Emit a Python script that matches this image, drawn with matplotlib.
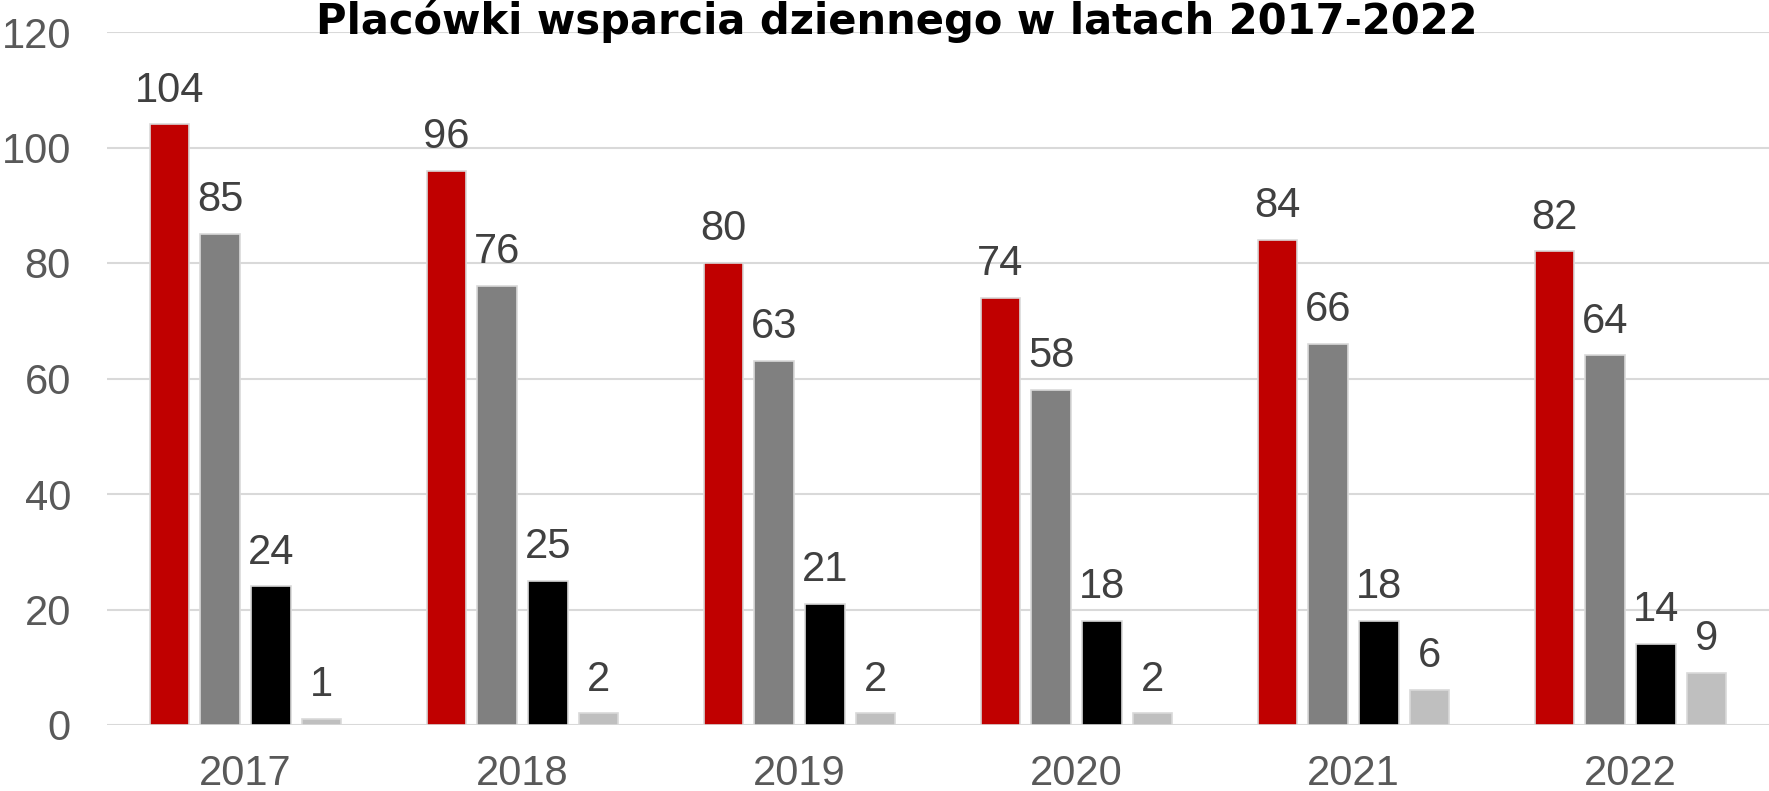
import numpy as np
import matplotlib.pyplot as plt
from matplotlib import font_manager

# data
years = ['2017', '2018', '2019', '2020', '2021', '2022']
series_a = [104, 96, 80, 74, 84, 82]
series_b = [85, 76, 63, 58, 66, 64]
series_c = [24, 25, 21, 18, 18, 14]
series_d = [1, 2, 2, 2, 6, 9]

colors = ['#C00000', '#808080', '#000000', '#BFBFBF']
title = 'Placówki wsparcia dziennego w latach 2017-2022'

installed = set(f.name for f in font_manager.fontManager.ttflist)
if 'Liberation Sans Narrow' in installed:
    numFont, numSize = 'Liberation Sans Narrow', 32
else:
    numFont, numSize = 'Liberation Sans', 30
plt.rcParams['font.family'] = [numFont, 'DejaVu Sans']

fig = plt.figure(figsize=(17.69, 7.91), dpi=100)
ax = fig.add_axes([107 / 1769, 66 / 791, 1 - 107 / 1769, (725 - 32) / 791])

x = np.arange(len(years))
slot = 0.183
width = 0.142
allSeries = [series_a, series_b, series_c, series_d]
for i, vals in enumerate(allSeries):
    pos = x + (i - 1.5) * slot
    bars = ax.bar(pos, vals, width, color=colors[i], edgecolor='#D9D9D9',
                  linewidth=1.2, zorder=3)
    for b, v in zip(bars, vals):
        ax.annotate(str(v), (b.get_x() + b.get_width() / 2, v),
                    xytext=(0, 10), textcoords='offset points',
                    ha='center', va='bottom', fontsize=numSize, color='#404040')

ax.set_xlim(-0.5, 5.5)
ax.set_ylim(0, 120)
ax.set_yticks(range(0, 121, 20))
ax.set_xticks(x)
ax.set_xticklabels(years)
ax.grid(axis='y', color='#D9D9D9', linewidth=1.5, zorder=0)
for s in ax.spines.values():
    s.set_visible(False)
ax.tick_params(axis='both', length=0, labelsize=numSize, labelcolor='#595959')
ax.tick_params(axis='y', pad=26)
ax.tick_params(axis='x', pad=21)

fig.text(0.507, 1 - 34 / 791, title, ha='center', va='baseline',
         fontsize=30, fontweight='bold', color='#000000',
         family=['DejaVu Sans'])

fig.savefig('out.png', dpi=100)
